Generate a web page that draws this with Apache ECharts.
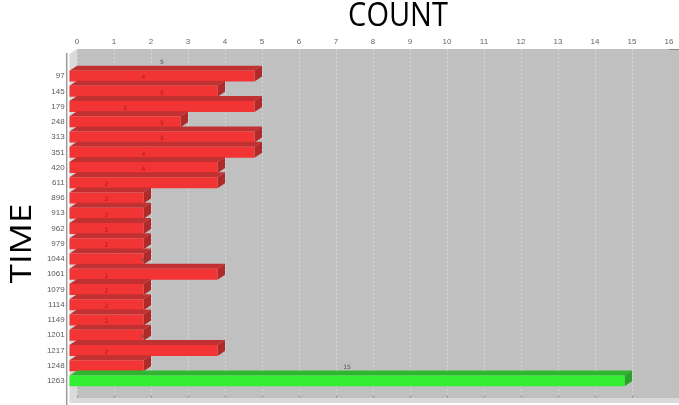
<!DOCTYPE html>
<html>
<head>
<meta charset="utf-8">
<script src="https://cdn.jsdelivr.net/npm/echarts@6/dist/echarts.min.js"></script>
<style>
  html, body { margin: 0; padding: 0; background: #ffffff; }
  #chart { width: 679px; height: 405px; }
</style>
</head>
<body>
<div id="chart"></div>
<script>
// Time stamps (category axis, top to bottom)
const times = ['97', '145', '179', '248', '313', '351', '420', '611', '896', '913', '962',
  '979', '1044', '1061', '1079', '1114', '1149', '1201', '1217', '1248', '1263'];
// Count recorded at each time
const counts = [5, 4, 5, 3, 5, 5, 4, 4, 2, 2, 2, 2, 2, 4, 2, 2, 2, 2, 4, 2, 15];
// Count axis range and tick step
const countMin = 0;
const countMax = 16;
const countStep = 1;

// Pseudo-3D layout: back wall rectangle and the depth offset of the front plane
const W = 679, H = 405;
const wall = { left: 77, right: 10, top: 49, bottom: 7 };
const depth = { dx: 7.5, dy: 5 };
const rowMargin = 14.5;
const barRatio = 0.72;

const colors = {
  red:   { front: '#f23434', top: '#c23131', side: '#b02a2a', label: '#a32020' },
  green: { front: '#33ee33', top: '#2fb52f', side: '#28a428', label: '#555555' }
};

const maxCount = Math.max(...counts);

const chart = echarts.init(document.getElementById('chart'), null, { renderer: 'canvas' });

function renderBar(params, api) {
  const i = api.value(1);
  const v = api.value(0);
  const base = api.coord([countMin, i]);
  const end = api.coord([v, i]);
  const mid = api.coord([v / 2, i]);
  const band = api.size([0, 1])[1];
  const h = band * barRatio;
  const dx = depth.dx, dy = depth.dy;
  const yc = base[1];
  const yt = yc - h / 2, yb = yc + h / 2;
  const x0 = base[0] - dx, x1 = end[0] - dx;
  const pal = v === maxCount ? colors.green : colors.red;

  // label colour: sits over the bar above when that bar reaches past it
  let labelFill = '#505050';
  if (i > 0 && v / 2 < counts[i - 1]) labelFill = colors.red.label;

  return {
    type: 'group',
    children: [
      { type: 'polygon', shape: { points: [[x0, yt], [x1, yt], [x1 + dx, yt - dy], [x0 + dx, yt - dy]] },
        style: { fill: pal.top } },
      { type: 'polygon', shape: { points: [[x1, yt], [x1 + dx, yt - dy], [x1 + dx, yb - dy], [x1, yb]] },
        style: { fill: pal.side } },
      { type: 'rect', shape: { x: x0, y: yt, width: x1 - x0, height: h },
        style: { fill: pal.front } },
      { type: 'text', style: { text: String(v), x: mid[0] - dx, y: yc - 13.5,
        align: 'center', verticalAlign: 'middle', fill: labelFill,
        fontSize: 6, fontFamily: 'DejaVu Sans' } }
    ]
  };
}

const backL = wall.left, backR = W - wall.right, backT = wall.top, backB = H - wall.bottom;
const frontL = backL - depth.dx;

const option = {
  animation: false,
  backgroundColor: '#ffffff',
  grid: [
    { left: wall.left, right: wall.right, top: wall.top, bottom: wall.bottom,
      show: true, backgroundColor: '#c0c0c0', borderWidth: 0 },
    { left: wall.left, right: wall.right,
      top: wall.top + depth.dy + rowMargin, bottom: wall.bottom - depth.dy + rowMargin }
  ],
  xAxis: [
    { type: 'value', gridIndex: 0, position: 'top', min: countMin, max: countMax, interval: countStep,
      axisLine: { show: true, lineStyle: { color: '#8a8a8a', width: 1 } },
      axisTick: { show: true, length: 3, lineStyle: { color: '#a0a0a0' } },
      axisLabel: { fontSize: 8, color: '#666666', margin: 3, fontFamily: 'Liberation Sans' },
      splitLine: { show: true, lineStyle: { color: '#d6d6d6', type: [2, 2], width: 1 } } },
    { type: 'value', gridIndex: 1, min: countMin, max: countMax, interval: countStep, show: false }
  ],
  yAxis: [
    { type: 'value', gridIndex: 0, min: 0, max: 1, show: false },
    { type: 'category', gridIndex: 1, data: times, inverse: true, offset: 10.3,
      axisLine: { show: false },
      axisTick: { show: true, alignWithLabel: true, length: 3, lineStyle: { color: '#8a8a8a' } },
      axisLabel: { fontSize: 8, color: '#5a5a5a', margin: 2, fontFamily: 'Liberation Sans' },
      splitLine: { show: false } }
  ],
  graphic: [
    // back wall continues past the last tick to the right edge
    { type: 'rect', z: 1, silent: true,
      shape: { x: backR, y: backT, width: W - backR, height: backB - backT },
      style: { fill: '#c0c0c0' } },
    { type: 'line', z: 1, silent: true,
      shape: { x1: backR, y1: backT + 0.5, x2: W, y2: backT + 0.5 },
      style: { stroke: '#8a8a8a', lineWidth: 1 } },
    // left side wall
    { type: 'polygon', z: 1, silent: true,
      shape: { points: [[backL, backT], [frontL, backT + depth.dy], [frontL, backB + depth.dy], [backL, backB]] },
      style: { fill: '#dadada' } },
    // floor
    { type: 'polygon', z: 1, silent: true,
      shape: { points: [[backL, backB], [W, backB], [W, backB + depth.dy], [frontL, backB + depth.dy]] },
      style: { fill: '#dadada' } },
    // vertical axis line along the front edge
    { type: 'line', z: 1, silent: true,
      shape: { x1: frontL - 2.8, y1: backT + depth.dy - 1, x2: frontL - 2.8, y2: H },
      style: { stroke: '#9a9a9a', lineWidth: 1.5 } },
    // axis titles (slightly tall, condensed lettering)
    { type: 'text', z: 5, x: 398, y: 17, scaleY: 1.12,
      style: { text: 'COUNT', fontSize: 29, fontFamily: 'Open Sans', fill: '#000000',
        align: 'center', verticalAlign: 'middle' } },
    { type: 'text', z: 5, x: 23, y: 243.5, rotation: Math.PI / 2, scaleX: 1.2,
      style: { text: 'TIME', fontSize: 29, fontFamily: 'Open Sans', fill: '#000000',
        align: 'center', verticalAlign: 'middle' } }
  ],
  series: [
    { type: 'custom', xAxisIndex: 1, yAxisIndex: 1, z: 3,
      data: counts.map((c, i) => [c, i]),
      encode: { x: 0, y: 1 },
      renderItem: renderBar }
  ]
};

chart.setOption(option);
</script>
</body>
</html>
